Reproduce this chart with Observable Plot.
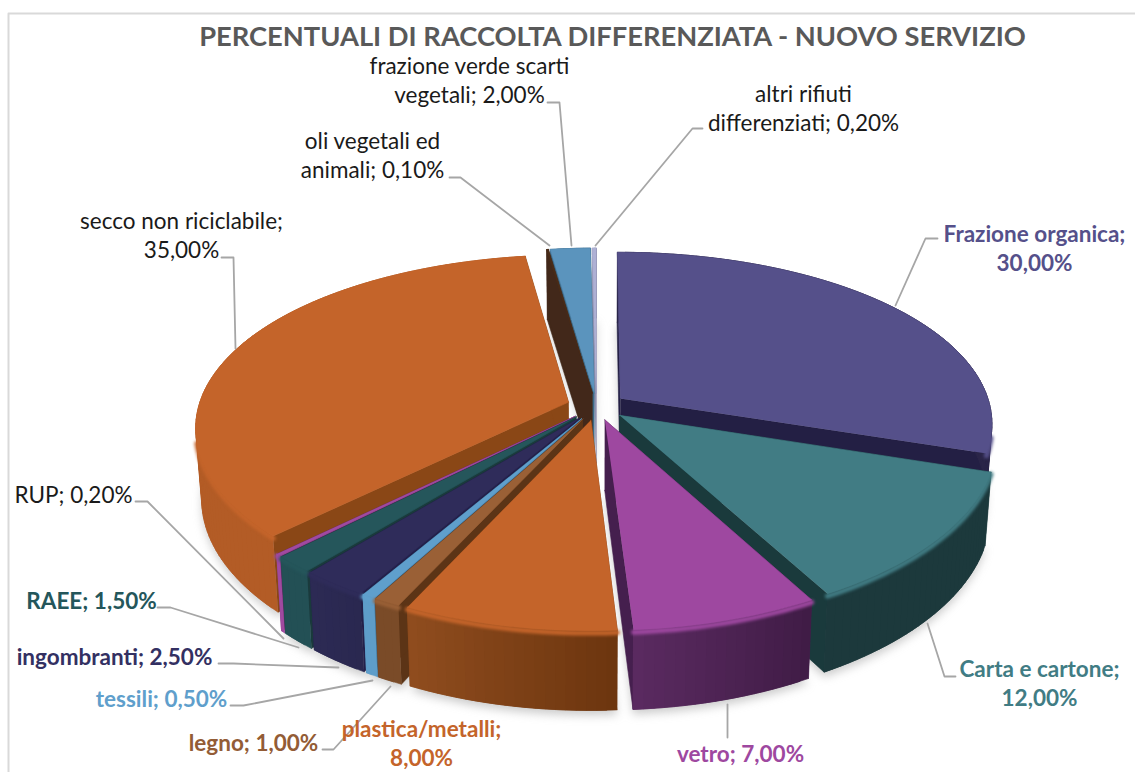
<!DOCTYPE html>
<html><head><meta charset="utf-8">
<script src="https://cdn.jsdelivr.net/npm/d3@7"></script>
<script src="https://cdn.jsdelivr.net/npm/@observablehq/plot@0.6"></script>
<style>html,body{margin:0;padding:0;background:#fff}svg{display:block}</style>
</head><body><div id="chart"></div>
<script>
const categories = ["Frazione organica","Carta e cartone","vetro","plastica/metalli","legno","tessili","ingombranti","RAEE","RUP","secco non riciclabile","oli vegetali ed animali","frazione verde scarti vegetali","altri rifiuti differenziati"];
const values = [30,12,7,8,1,0.5,2.5,1.5,0.2,35,0.1,2,0.2];
const topColors  = ["#55508a","#417c84","#9e48a0","#c4642a","#9a6036","#5f9fcc","#2f2c5a","#25565b","#a04aa0","#c4642a","#4a2c18","#5b94bd","#aeb0d4"];
const wallLeft   = ["#2a2548","#1c393c","#5a2a60","#8f4c1e","#7a4b28","#5e9dc9","#2c2a54","#235055","#a04aa0","#b35c26","#42281a","#3d6a88","#8f90b0"];
const wallRight  = ["#2a2548","#1c393c","#401c46","#6d360f","#7a4b28","#5e9dc9","#2a2850","#235055","#a04aa0","#b35c26","#42281a","#3d6a88","#8f90b0"];
const innerColors= ["#231f44","#1a3a3c","#451f4e","#6d360f","#5c3416","#3f6f92","#23204a","#1a3a3c","#6a2d6c","#8a4716","#42281a","#3d6a88","#8f90b0"];
const labelLines = ["Frazione organica;\n30,00%","Carta e cartone;\n12,00%","vetro; 7,00%","plastica/metalli;\n8,00%","legno; 1,00%","tessili; 0,50%","ingombranti; 2,50%","RAEE; 1,50%","RUP; 0,20%","secco non riciclabile;\n35,00%","oli vegetali ed\nanimali; 0,10%","frazione verde scarti\nvegetali; 2,00%","altri rifiuti\ndifferenziati; 0,20%"];
const labelColors= ["#55508a","#417c84","#9e48a0","#c4642a","#935c35","#5f9fcc","#333062","#24565b","#1a1a1a","#1a1a1a","#1a1a1a","#1a1a1a","#1a1a1a"];
const labelBold  = [1,1,1,1,1,1,1,1,0,0,0,0,0];
const labelX     = [1034,1039,740,421,253,161,114,91,73,181,372,469,803];
const labelY     = [247,682,752,742,741,697,655,599,493,234,154,79,107];
const leaderX    = [[937,925,895],[955,944,927],[727,727],[],[322,333,390],[230,243,372],[218,233,338],[157,170,298],[135,147,283],[221,233,235],[449,460,549],[547,559,571],[702,692,595]];
const leaderY    = [[238,238,305],[676,676,623],[704,737],[],[749,749,686],[705,705,680],[663,663,667],[607,607,647],[501,501,638],[257,257,348],[177,177,245],[102,102,245],[128,128,245]];
const drawOrder  = [12,11,10,0,9,1,8,7,6,5,4,2,3];

// projection of the pie: u right, v toward the viewer, z downward through the thickness
const CX = 596, CY = 406, RX = 370, RY = 172, EXPLODE = 0.08;
function project(u, v, z) {
  const sy = 1 / (1 - 0.16 * v), sx = 1 / (1 - 0.14 * v);
  return [CX + RX * u * sx * (1 - 0.015 * z), CY + RY * v * sy + z * (70 + 9 * Math.max(v, 0))];
}
const total = d3.sum(values);
let acc = 0;
const slices = values.map((value, i) => {
  const a0 = acc / total * 2 * Math.PI; acc += value;
  const a1 = acc / total * 2 * Math.PI, mid = (a0 + a1) / 2;
  return {i, a0, a1, ou: EXPLODE * Math.sin(mid), ov: -EXPLODE * Math.cos(mid)};
});
const rimAt = (s, a, z) => project(s.ou + Math.sin(a), s.ov - Math.cos(a), z);
const apexAt = (s, z) => project(s.ou, s.ov, z);
function arcAngles(s) {
  const n = Math.max(2, Math.ceil((s.a1 - s.a0) / 0.025));
  return d3.range(n + 1).map(k => s.a0 + (s.a1 - s.a0) * k / n);
}
const arc = (s, z) => arcAngles(s).map(a => rimAt(s, a, z));
const poly = (face, pts, fill) => pts.map(([x, y]) => ({face, x, y, fill}));

function wallRows(s) {
  const rows = [], c = s.i;
  rows.push(...poly(`${c}s`, [apexAt(s,0), rimAt(s,s.a0,0), rimAt(s,s.a0,1), apexAt(s,1)], innerColors[c]));
  rows.push(...poly(`${c}e`, [apexAt(s,0), rimAt(s,s.a1,0), rimAt(s,s.a1,1), apexAt(s,1)], innerColors[c]));
  const t = arc(s,0), b = arc(s,1), col = d3.interpolateRgb(wallLeft[c], wallRight[c]);
  for (let k = 0; k < t.length - 1; k++) {
    // the shade runs along the wall; each facet overlaps the next so no seam shows
    const f = t.length < 3 ? 0 : 1 - k / (t.length - 2);
    const e = Math.min(k + 2, t.length - 1);
    rows.push(...poly(`${c}w${k}`, [t[k], t[e], b[e], b[k]], col(f)));
  }
  return rows;
}
const topRows = s => poly(`${s.i}t`, [apexAt(s,0), ...arc(s,0)], topColors[s.i]);
// soft bevel only where the wall is seen, on the near part of the rim
const rimRows = s => poly(`${s.i}r`, arcAngles(s).filter(a => Math.cos(a) < -0.2).map(a => rimAt(s, a, 0.03)), topColors[s.i]);
const shadowRows = slices.flatMap(s => poly(`${s.i}h`, [apexAt(s,1.06), ...arc(s,1.06)], "#8c8c8c"));

const faceOpts = {x:"x", y:"y", z:"face", fill:"fill", stroke:"fill", strokeWidth:0.6};
const pieMarks = drawOrder.flatMap(i => {
  const s = slices[i];
  return [
    Plot.line(wallRows(s), faceOpts),
    Plot.line(rimRows(s), {x:"x", y:"y", z:"face", stroke:"fill", strokeWidth:5, imageFilter:"blur(1.6px)"}),
    Plot.line(topRows(s), faceOpts)
  ];
});

const leaderRows = leaderX.flatMap((xs, i) => xs.map((x, k) => ({i, x, y: leaderY[i][k]})));
const labelRows = labelLines.map((text, i) => ({text, x: labelX[i], y: labelY[i], color: labelColors[i], bold: labelBold[i]}));
const textOpts = {x:"x", y:"y", text:"text", fill:"color", fontSize:22.5, lineHeight:1.3, fontFamily:"Lato, sans-serif", textAnchor:"middle"};

const svg = Plot.plot({
  width:1135, height:772, margin:0,
  x:{domain:[0,1135], range:[0,1135], axis:null},
  y:{domain:[0,772], range:[0,772], axis:null},
  color:{type:"identity"},
  style:{background:"#fff", fontFamily:"Lato, sans-serif"},
  marks:[
    Plot.line([{x:1135,y:13},{x:8,y:13},{x:8,y:772}], {x:"x", y:"y", stroke:"#d9d9d9", strokeWidth:2}),
    Plot.line(shadowRows, {x:"x", y:"y", z:"face", fill:"fill", fillOpacity:0.45, imageFilter:"blur(5px)"}),
    ...pieMarks,
    Plot.line(leaderRows, {x:"x", y:"y", z:"i", stroke:"#a6a6a6", strokeWidth:1.8, curve:"linear"}),
    Plot.text(labelRows.filter(d => d.bold), {...textOpts, fontWeight:700}),
    Plot.text(labelRows.filter(d => !d.bold), {...textOpts, fontWeight:400}),
    Plot.text(["PERCENTUALI DI RACCOLTA DIFFERENZIATA - NUOVO SERVIZIO"], {x:[612], y:[37], text:d=>d, fontSize:27.3, fontWeight:700, fill:"#595959", fontFamily:"Lato, sans-serif", textAnchor:"middle"})
  ]
});
document.getElementById("chart").appendChild(svg);
</script></body></html>
